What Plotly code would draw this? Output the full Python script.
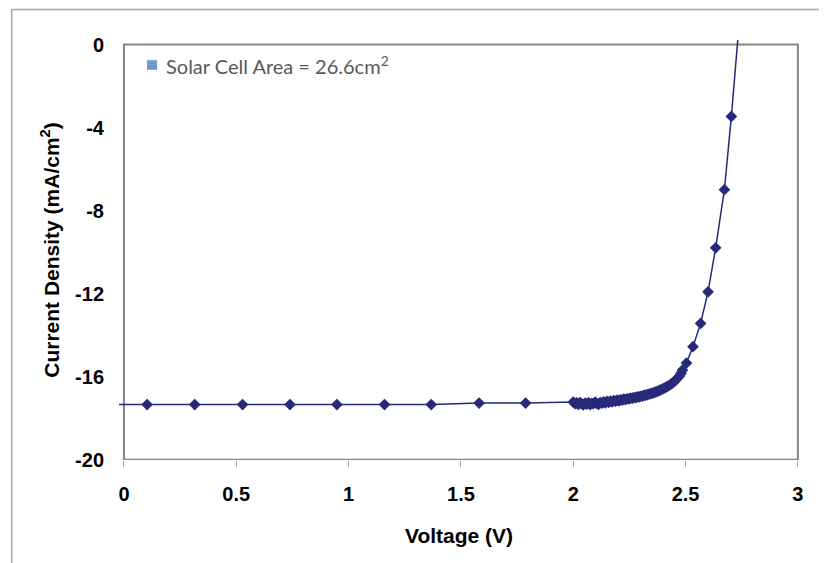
import plotly.graph_objects as go

# Voltage (V) and current density (mA/cm^2)
volt_sparse_low = [-0.10, 0.103, 0.315, 0.528, 0.739, 0.948, 1.160, 1.368, 1.581, 1.788]
curr_sparse_low = [-17.34, -17.34, -17.34, -17.34, -17.34, -17.34, -17.34, -17.34, -17.27, -17.27]

volt_dense = [2.000, 2.008, 2.015, 2.023, 2.030, 2.038, 2.045, 2.053, 2.060, 2.068,
              2.075, 2.083, 2.090, 2.098, 2.105, 2.113, 2.120, 2.128, 2.135, 2.143,
              2.150, 2.158, 2.165, 2.173, 2.180, 2.188, 2.195, 2.203, 2.210, 2.218,
              2.225, 2.233, 2.240, 2.248, 2.255, 2.263, 2.270, 2.278, 2.285, 2.293,
              2.300, 2.308, 2.315, 2.323, 2.330, 2.338, 2.345, 2.353, 2.360, 2.368,
              2.375, 2.383, 2.390, 2.398, 2.405, 2.413, 2.420, 2.428, 2.435, 2.443,
              2.450, 2.458, 2.465, 2.473, 2.480, 2.486]
curr_dense = [-17.22, -17.30, -17.26, -17.33, -17.24, -17.31, -17.35, -17.27, -17.32, -17.25,
              -17.34, -17.28, -17.30, -17.22, -17.29, -17.33, -17.24, -17.27, -17.21, -17.26,
              -17.19, -17.23, -17.17, -17.21, -17.15, -17.18, -17.13, -17.16, -17.11, -17.13,
              -17.08, -17.10, -17.06, -17.07, -17.03, -17.04, -17.00, -17.01, -16.97, -16.97,
              -16.94, -16.93, -16.90, -16.89, -16.86, -16.84, -16.81, -16.79, -16.76, -16.73,
              -16.70, -16.66, -16.63, -16.59, -16.55, -16.50, -16.46, -16.41, -16.36, -16.30,
              -16.23, -16.15, -16.06, -15.96, -15.83, -15.68]

volt_sparse_high = [2.504, 2.533, 2.567, 2.600, 2.634, 2.673, 2.704, 2.740]
curr_sparse_high = [-15.34, -14.55, -13.43, -11.91, -9.79, -6.99, -3.46, 1.20]

x_ticks = [0, 0.5, 1, 1.5, 2, 2.5, 3]
x_ticktext = ["0", "0.5", "1", "1.5", "2", "2.5", "3"]
y_ticks = [0, -4, -8, -12, -16, -20]
y_ticktext = ["0", "-4", "-8", "-12", "-16", "-20"]

legend_label = "Solar Cell Area = 26.6cm<sup>2</sup>"

volts = volt_sparse_low + volt_dense + volt_sparse_high
currs = curr_sparse_low + curr_dense + curr_sparse_high

navy = "#272a78"
fig = go.Figure()
fig.add_trace(go.Scatter(
    x=volts, y=currs, mode="lines+markers",
    line=dict(color=navy, width=1.5),
    marker=dict(symbol="diamond", size=9, color=navy),
    showlegend=False,
))

tick_font = dict(family="Liberation Sans", size=20, color="#000000", weight="bold")
title_font = dict(family="Liberation Sans", size=21, color="#000000", weight="bold")

fig.update_layout(
    width=827, height=563,
    margin=dict(l=111, r=36, t=32, b=111),
    paper_bgcolor="white", plot_bgcolor="white",
    xaxis=dict(range=[-0.022, 3.005], tickvals=x_ticks, ticktext=x_ticktext,
               ticks="outside", ticklen=6, tickcolor="#a6a6a6", tickwidth=1,
               showgrid=False, zeroline=False, showline=False,
               tickfont=tick_font, ticklabelstandoff=10,
               title=dict(text="Voltage (V)", font=title_font, standoff=24)),
    yaxis=dict(range=[-20.01, 0.22], tickvals=y_ticks, ticktext=y_ticktext,
               ticks="", showgrid=False, zeroline=False, showline=False,
               tickfont=tick_font, ticklabelstandoff=14,
               title=dict(text="Current Density (mA/cm<sup>2</sup>)", font=title_font, standoff=9)),
    shapes=[
        dict(type="rect", xref="x", yref="y", x0=0, x1=3, y0=-20, y1=0,
             line=dict(color="#858585", width=2), layer="below"),
        dict(type="line", xref="paper", yref="paper", x0=-0.1578, x1=1.2, y0=1.0728, y1=1.0728,
             line=dict(color="#a6a6a6", width=1.5)),
        dict(type="line", xref="paper", yref="paper", x0=-0.1578, x1=-0.1578, y0=1.0728, y1=-0.4,
             line=dict(color="#a6a6a6", width=1.5)),
        dict(type="rect", xref="paper", yref="paper", x0=0.0412, x1=0.0559, y0=0.929, y1=0.952,
             line=dict(width=0), fillcolor="#6e9bd5"),
    ],
    annotations=[
        dict(xref="paper", yref="paper", x=0.0662, y=0.940, xanchor="left", yanchor="middle",
             showarrow=False, text=legend_label,
             font=dict(family="Lato", size=20, color="#595959")),
    ],
)

fig.write_html("out.html")
